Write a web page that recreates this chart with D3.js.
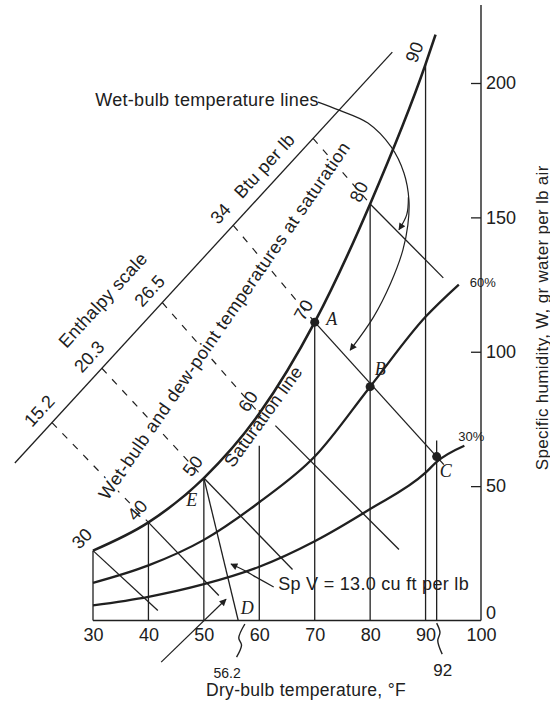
<!DOCTYPE html>
<html><head><meta charset="utf-8">
<script src="https://cdn.jsdelivr.net/npm/d3@7"></script>
<style>
body{margin:0;background:#fff;}
svg{display:block;font-family:"Liberation Sans",Arial,sans-serif;}
</style></head><body>
<svg id="chart" width="550" height="705"></svg>
<script>
// ---------- data (dry-bulb °F, specific humidity gr/lb) ----------
const xTicks=[30,40,50,60,70,80,90,100];
const yTicks=[0,50,100,150,200];
const satT=[30,40,50,60,70,80,90,91.8];
const satW=[26,36.5,53,77,111,155,207,218];
const rh60T=[30,40,50,60,70,80,90,96];
const rh60W=[14,20.5,30,44,61,87,113,125];
const rh30T=[30,40,50,60,70,80,90,92,97];
const rh30W=[5.6,8.8,13.5,20,29.5,41.5,55,59,65];
const rhLabels=["60%","30%"];
// dry-bulb verticals
const dbT=[30,40,50,60,70,80,90,92];
const dbTopW=[26,36.5,53,65,111,155,207,67];
// wet-bulb lines (start / end)
const wbLabel=[30,40,50,60,70,80,90];
const wbStartT=[30,40,50,62.9,70,80];
const wbStartW=[26,36.5,53,72.5,111,155];
const wbEndT=[41.7,52.7,66,85.2,93.3,93.2];
const wbEndW=[3.7,9.3,19,26.4,58,127.5];
// enthalpy scale
const enthLineT=[15.9,84.0];
const enthLineW=[58.6,211.5];
const enthTickT=[22.6,31.6,42.5,55.3,69.7];
const enthTickLabel=["15.2","20.3","26.5","34",""];
const enthTickToWB=[40,50,60,70,80];
// specific volume line
const spvT=[50,56.2];
const spvW=[53,0];
// state points
const ptName=["A","B","C"];
const ptT=[70,80,92];
const ptW=[111,87,61];
// leaders
const leadMainT=[70.6,74.4,79.6,83.8,86.1,87.0,86.8,85.9,83.7,80.6,76.4];
const leadMainW=[192.9,189.9,185.1,176.2,166.5,156.4,147.1,137.8,125.5,112.9,100.6];
const leadBranchT=[86.9,86.6,85.2];
const leadBranchW=[157.5,151,145.4];
const leadSpvT=[62.6,59.0,57.8,54.9];
const leadSpvW=[12.5,16.6,18.1,21.0];
const leadLowT=[42.3,54.0];
const leadLowW=[-15.5,7.9];
const squig562T=[55.9,56.8,56.3,57.4];
const squig562W=[-13.6,-9.1,-6.5,-1.3];
const squig92T=[92.0,92.6,92.2,93.0];
const squig92W=[-1.0,-4.5,-7.5,-12.5];

// ---------- drawing ----------
const svg=d3.select("#chart");
const ink="#202020";
const x=d3.scaleLinear().domain([30,100]).range([93,481]);
const y=d3.scaleLinear().domain([0,200]).range([620.5,83]);
const zip=(a,b)=>a.map((v,i)=>[v,b[i]]);
const ln=d3.line().x(d=>x(d[0])).y(d=>y(d[1]));
const smooth=d3.line().x(d=>x(d[0])).y(d=>y(d[1])).curve(d3.curveMonotoneX);
const curvy=d3.line().x(d=>x(d[0])).y(d=>y(d[1])).curve(d3.curveCatmullRom);
const satInterp=t=>{for(let i=0;i<satT.length-1;i++){if(t<=satT[i+1]){const f=(t-satT[i])/(satT[i+1]-satT[i]);return satW[i]+f*(satW[i+1]-satW[i]);}}return satW[satW.length-1];};

const defs=svg.append("defs");
defs.append("marker").attr("id","arr").attr("viewBox","0 0 10 10").attr("refX",9).attr("refY",5)
 .attr("markerWidth",9).attr("markerHeight",7).attr("markerUnits","userSpaceOnUse").attr("orient","auto")
 .append("path").attr("d","M0,0L10,5L0,10z").attr("fill",ink);

const g=svg.append("g");

// dry-bulb verticals
g.selectAll(".db").data(zip(dbT,dbTopW)).join("line")
 .attr("x1",d=>x(d[0])).attr("x2",d=>x(d[0])).attr("y1",y(0)).attr("y2",d=>y(d[1]))
 .attr("stroke",ink).attr("stroke-width",1.3);
// right boundary and baseline
g.append("line").attr("x1",x(100)).attr("x2",x(100)).attr("y1",y(0)).attr("y2",y(229))
 .attr("stroke",ink).attr("stroke-width",1.4);
g.append("line").attr("x1",x(30)).attr("x2",x(100)).attr("y1",y(0)).attr("y2",y(0))
 .attr("stroke",ink).attr("stroke-width",1.4);

// wet-bulb lines
g.selectAll(".wb").data(wbStartT.map((t,i)=>[[t,wbStartW[i]],[wbEndT[i],wbEndW[i]]])).join("path")
 .attr("d",ln).attr("fill","none").attr("stroke",ink).attr("stroke-width",1.3);

// specific volume line
g.append("path").attr("d",ln(zip(spvT,spvW))).attr("fill","none").attr("stroke",ink).attr("stroke-width",1.3);

// enthalpy line
const enthW=t=>enthLineW[0]+(t-enthLineT[0])*(enthLineW[1]-enthLineW[0])/(enthLineT[1]-enthLineT[0]);
g.append("path").attr("d",ln(zip(enthLineT,enthLineW))).attr("fill","none").attr("stroke",ink).attr("stroke-width",1.3);
// dashed lines from enthalpy ticks to saturation
g.selectAll(".dash").data(enthTickT.map((t,i)=>[[t,enthW(t)],[enthTickToWB[i],satInterp(enthTickToWB[i])]])).join("path")
 .attr("d",ln).attr("fill","none").attr("stroke",ink).attr("stroke-width",1.2).attr("stroke-dasharray","7,8");

// humidity curves
g.append("path").attr("d",smooth(zip(rh30T,rh30W))).attr("fill","none").attr("stroke",ink).attr("stroke-width",2.3);
g.append("path").attr("d",smooth(zip(rh60T,rh60W))).attr("fill","none").attr("stroke",ink).attr("stroke-width",2.3);
g.append("path").attr("d",smooth(zip(satT,satW))).attr("fill","none").attr("stroke",ink).attr("stroke-width",2.6);

// leaders
g.append("path").attr("d",curvy(zip(leadMainT,leadMainW))).attr("fill","none").attr("stroke",ink).attr("stroke-width",1.2).attr("marker-end","url(#arr)");
g.append("path").attr("d",curvy(zip(leadBranchT,leadBranchW))).attr("fill","none").attr("stroke",ink).attr("stroke-width",1.2).attr("marker-end","url(#arr)");
g.append("path").attr("d",curvy(zip(leadSpvT,leadSpvW))).attr("fill","none").attr("stroke",ink).attr("stroke-width",1.2).attr("marker-end","url(#arr)");
g.append("path").attr("d",ln(zip(leadLowT,leadLowW))).attr("fill","none").attr("stroke",ink).attr("stroke-width",1.2).attr("marker-end","url(#arr)");
g.append("path").attr("d",curvy(zip(squig562T,squig562W))).attr("fill","none").attr("stroke",ink).attr("stroke-width",1.4);
g.append("path").attr("d",curvy(zip(squig92T,squig92W))).attr("fill","none").attr("stroke",ink).attr("stroke-width",1.4);

// state points
g.selectAll(".pt").data(ptT.map((t,i)=>[t,ptW[i]])).join("circle")
 .attr("cx",d=>x(d[0])).attr("cy",d=>y(d[1])).attr("r",4.5).attr("fill",ink);

// ---------- text ----------
const fs=18;
const ls="0.3px";
const txt=(sel)=>sel.attr("fill",ink).attr("font-size",fs).attr("letter-spacing",ls);
// axes
const xAx=svg.append("g").attr("transform",`translate(0,${y(0)})`)
 .call(d3.axisBottom(x).tickValues(xTicks).tickSize(0).tickPadding(8));
xAx.select(".domain").remove();
xAx.selectAll("text").attr("font-size",fs).attr("fill",ink).attr("font-family","Liberation Sans, Arial, sans-serif");
const yAx=svg.append("g").attr("transform",`translate(${x(100)},0)`)
 .call(d3.axisRight(y).tickValues(yTicks).tickSizeInner(-10).tickSizeOuter(0).tickPadding(5));
yAx.select(".domain").remove();
yAx.selectAll("line").attr("stroke",ink).attr("stroke-width",1.3);
yAx.selectAll("text").attr("font-size",fs).attr("fill",ink).attr("font-family","Liberation Sans, Arial, sans-serif");
yAx.selectAll(".tick").filter(d=>d===0).select("text").attr("dy","-0.1em");
yAx.selectAll(".tick").filter(d=>d===0).select("line").remove();

// axis titles
txt(svg.append("text")).attr("x",306).attr("y",696).attr("text-anchor","middle").attr("font-size",17.5)
 .text("Dry-bulb temperature, °F");
txt(svg.append("text")).attr("transform",`translate(542,${(y(0)+y(229))/2+5}) rotate(-90)`).attr("text-anchor","middle")
 .attr("dominant-baseline","central").attr("font-size",17).text("Specific humidity, W, gr water per lb air");

// saturation labels
g.selectAll(".sl").data(wbLabel).join("text")
 .attr("transform",t=>`translate(${x(t)-11},${y(satInterp(t))-12}) rotate(${-45-(t-30)*0.4})`)
 .attr("text-anchor","middle").attr("dominant-baseline","central").attr("font-size",fs).attr("fill",ink).text(d=>d);

// enthalpy labels
const eRot=-47.5, ux=Math.cos(eRot*Math.PI/180), uy=Math.sin(eRot*Math.PI/180);
const nx=uy, ny=-ux; // text "up" direction
g.selectAll(".el").data(enthTickT.map((t,i)=>[t,enthTickLabel[i]])).join("text")
 .attr("transform",d=>`translate(${x(d[0])+17*nx},${y(enthW(d[0]))+17*ny}) rotate(${eRot})`)
 .attr("text-anchor","middle").attr("dominant-baseline","central").attr("font-size",fs).attr("fill",ink).text(d=>d[1]);
{
 const t=enthTickT[3];
 txt(g.append("text")).attr("transform",`translate(${x(t)+65*ux+17*nx},${y(enthW(t))+65*uy+17*ny}) rotate(${eRot})`)
  .attr("text-anchor","middle").attr("dominant-baseline","central").text("Btu per lb");
}

// annotations
const annText=["Wet-bulb temperature lines","Wet-bulb and dew-point temperatures at saturation","Saturation line","Enthalpy scale","Sp V = 13.0 cu ft per lb"];
const annT=[30.4,54.6,61.6,32.6,63.4];
const annW=[191.4,110.3,74.6,117.7,11.3];
const annRot=[0,-55.5,-54,-47.5,0];
const annAnchor=["start","middle","middle","middle","start"];
g.selectAll(".ann").data(annText).join("text")
 .attr("transform",(d,i)=>`translate(${x(annT[i])},${y(annW[i])}) rotate(${annRot[i]})`)
 .attr("text-anchor",(d,i)=>annAnchor[i]).attr("font-size",fs).attr("fill",ink).attr("letter-spacing",(d,i)=>i===1?"0.5px":ls)
 .attr("stroke","#fff").attr("stroke-width",(d,i)=>i===1?5:0).attr("paint-order","stroke")
 .text(d=>d);

// RH labels
const rhEnds=[[rh60T[rh60T.length-1],rh60W[rh60W.length-1]],[rh30T[rh30T.length-1],rh30W[rh30W.length-1]]];
const rhDx=[11,-6], rhDy=[-2,-9];
g.selectAll(".rl").data(rhLabels).join("text")
 .attr("x",(d,i)=>x(rhEnds[i][0])+rhDx[i]).attr("y",(d,i)=>y(rhEnds[i][1])+rhDy[i]).attr("dominant-baseline","central")
 .attr("font-size",13).attr("fill",ink).text(d=>d);

// point letters
const letters=["A","B","C","D","E"];
const letT=[70,80,92,56.2,50];
const letW=[111,87,61,0,53];
const letDx=[17,10,9,9,-12];
const letDy=[-3,-18,14,-13,22];
g.selectAll(".let").data(letters).join("text")
 .attr("x",(d,i)=>x(letT[i])+letDx[i]).attr("y",(d,i)=>y(letW[i])+letDy[i])
 .attr("text-anchor","middle").attr("dominant-baseline","central")
 .attr("font-family","Liberation Serif, serif").attr("font-style","italic").attr("font-size",18).attr("fill",ink).text(d=>d);

// small value labels under axis
const subLab=["56.2","92"];
const subT=[54.2,93.1];
const subW=[-19.5,-18.5];
g.selectAll(".sub").data(subLab).join("text")
 .attr("x",(d,i)=>x(subT[i])).attr("y",(d,i)=>y(subW[i])).attr("text-anchor","middle").attr("dominant-baseline","central")
 .attr("font-size",(d,i)=>i===0?14:17).attr("fill",ink).text(d=>d);
</script>
</body></html>
